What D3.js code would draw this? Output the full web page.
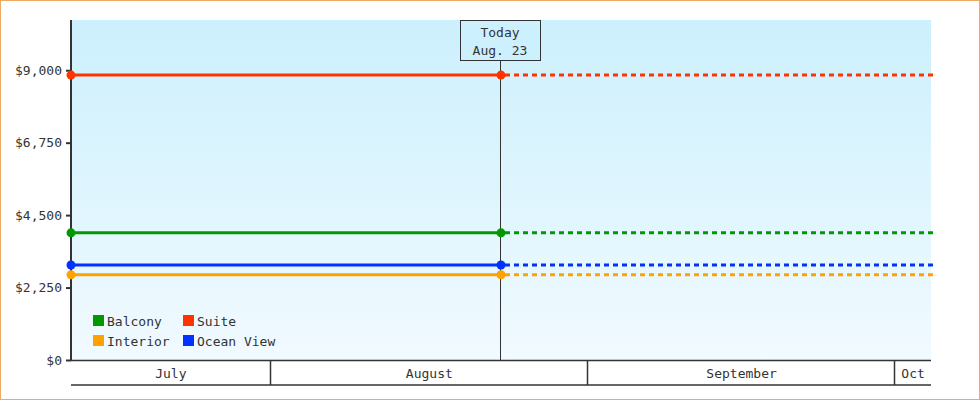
<!DOCTYPE html>
<html>
<head>
<meta charset="utf-8">
<script src="https://cdn.jsdelivr.net/npm/d3@7"></script>
<style>
  body { margin: 0; background: #fff; }
  svg text { font-family: "DejaVu Sans Mono", "Liberation Mono", monospace; font-size: 13px; fill: #333; }
</style>
</head>
<body>
<div id="chart"></div>
<script>
// data
var categories = ["Balcony", "Suite", "Interior", "Ocean View"]
var colors = ["#009900", "#ff3300", "#ffa200", "#0033ff"]
var prices = [3949, 8849, 2649, 2949]
var startDate = "2013-07-12T12:00"
var todayDate = "2013-08-23T12:00"
var endDate = "2013-10-04T12:00"
var yTicks = [0, 2250, 4500, 6750, 9000]
var yMax = 10560
var monthLabels = ["July", "August", "September", "Oct"]
var todayLabel = ["Today", "Aug. 23"]

var parseTime = d3.timeParse("%Y-%m-%dT%H:%M")

var W = 980, H = 400
var margin = { left: 71, right: 49, top: 20, bottom: 40 }
var width = W - margin.left - margin.right,
    height = H - margin.top - margin.bottom

var svg = d3.select("#chart")
    .append("svg")
        .attr("width", W)
        .attr("height", H)

// outer border
svg.append("rect")
    .attr("x", 0.5).attr("y", 0.5)
    .attr("width", W - 1).attr("height", H - 1)
    .attr("fill", "#fff")
    .attr("stroke", "#efaa62")
    .attr("stroke-width", 1)

var defs = svg.append("defs")
var grad = defs.append("linearGradient")
    .attr("id", "bg")
    .attr("x1", 0).attr("y1", 0).attr("x2", 0).attr("y2", 1)
grad.append("stop").attr("offset", "0%").attr("stop-color", "#ccf0fd")
grad.append("stop").attr("offset", "100%").attr("stop-color", "#f1faff")

var g = svg.append("g")
    .attr("transform", "translate(" + margin.left + "," + margin.top + ")")

var x = d3.scaleTime()
    .domain([parseTime(startDate), parseTime(endDate)])
    .range([0, width])

var y = d3.scaleLinear()
    .domain([0, yMax])
    .range([height, 0])

g.append("rect")
    .attr("x", 0).attr("y", 0)
    .attr("width", width).attr("height", height)
    .attr("fill", "url(#bg)")

// y axis
var yAxis = d3.axisLeft(y)
    .tickValues(yTicks)
    .tickSize(5)
    .tickPadding(4)
    .tickFormat(function(d){ return "$" + d3.format(",")(d) })

var yAxisCall = g.append("g").call(yAxis)
yAxisCall.select(".domain").remove()
yAxisCall.selectAll(".tick line").attr("stroke", "#333").attr("stroke-width", 2)
yAxisCall.selectAll(".tick text").attr("fill", "#333").style("font-size", "13px")
    .style("font-family", "'DejaVu Sans Mono', monospace")

g.append("line")
    .attr("x1", 0).attr("x2", 0)
    .attr("y1", 0).attr("y2", height + 1)
    .attr("stroke", "#333")
    .attr("stroke-width", 2)

// x axis: month bands
var bandH = 25
var bounds = [x.domain()[0]].concat(x.ticks(d3.timeMonth)).concat([x.domain()[1]])
var xAxisG = g.append("g").attr("transform", "translate(0," + height + ")")

xAxisG.append("line")
    .attr("x1", 0).attr("x2", width)
    .attr("y1", 0.5).attr("y2", 0.5)
    .attr("stroke", "#333").attr("stroke-width", 1.5)
xAxisG.append("line")
    .attr("x1", 0).attr("x2", width)
    .attr("y1", bandH).attr("y2", bandH)
    .attr("stroke", "#333").attr("stroke-width", 1.5)

xAxisG.selectAll(".sep")
    .data(bounds.slice(1, -1))
    .enter().append("line")
        .attr("class", "sep")
        .attr("x1", d => Math.round(x(d)) - 0.5)
        .attr("x2", d => Math.round(x(d)) - 0.5)
        .attr("y1", 0).attr("y2", bandH)
        .attr("stroke", "#333").attr("stroke-width", 1.5)

xAxisG.selectAll(".month")
    .data(monthLabels)
    .enter().append("text")
        .attr("class", "month")
        .attr("x", (d, i) => (x(bounds[i]) + x(bounds[i + 1])) / 2)
        .attr("y", bandH / 2 + 1)
        .attr("text-anchor", "middle")
        .attr("dominant-baseline", "central")
        .text(d => d)

// today marker
var todayX = x(parseTime(todayDate))
g.append("line")
    .attr("x1", Math.round(todayX) - 0.5).attr("x2", Math.round(todayX) - 0.5)
    .attr("y1", 40).attr("y2", height)
    .attr("stroke", "#333").attr("stroke-width", 1)

g.append("rect")
    .attr("x", Math.round(todayX) - 41 + 0.5).attr("y", 0.5)
    .attr("width", 80).attr("height", 40)
    .attr("fill", "#ccf0fd")
    .attr("stroke", "#333").attr("stroke-width", 1)

g.selectAll(".today-text")
    .data(todayLabel)
    .enter().append("text")
        .attr("class", "today-text")
        .attr("x", todayX - 1)
        .attr("y", (d, i) => 12 + i * 18)
        .attr("text-anchor", "middle")
        .attr("dominant-baseline", "central")
        .text(d => d)

// series
var series = categories.map(function(c, i){
    return {
        name: c,
        color: colors[i],
        actual: [
            { date: parseTime(startDate), val: prices[i] },
            { date: parseTime(todayDate), val: prices[i] }
        ],
        projected: [
            { date: parseTime(todayDate), val: prices[i] },
            { date: parseTime(endDate), val: prices[i] }
        ]
    }
})

var line = d3.line()
    .x(d => x(d.date))
    .y(d => y(d.val))

var seriesG = g.selectAll(".series")
    .data(series)
    .enter().append("g")
        .attr("class", "series")

seriesG.append("path")
    .attr("d", d => line(d.projected))
    .attr("fill", "none")
    .attr("stroke", d => d.color)
    .attr("stroke-width", 3)
    .attr("stroke-dasharray", "5,4")
    .attr("transform", "translate(4,0)")

seriesG.append("path")
    .attr("d", d => line(d.actual))
    .attr("fill", "none")
    .attr("stroke", d => d.color)
    .attr("stroke-width", 3)

seriesG.selectAll("circle")
    .data(d => d.actual.map(p => ({ date: p.date, val: p.val, color: d.color })))
    .enter().append("circle")
        .attr("cx", d => x(d.date))
        .attr("cy", d => y(d.val))
        .attr("r", 4.5)
        .attr("fill", d => d.color)

// legend
var legend = g.append("g")
    .attr("transform", "translate(22," + (height - 45) + ")")

var legendItems = legend.selectAll(".legend-item")
    .data(series)
    .enter().append("g")
        .attr("class", "legend-item")
        .attr("transform", (d, i) => "translate(" + ((i % 2) * 90) + "," + (Math.floor(i / 2) * 20) + ")")

legendItems.append("rect")
    .attr("x", 0).attr("y", 0)
    .attr("width", 11).attr("height", 11)
    .attr("fill", d => d.color)

legendItems.append("text")
    .attr("x", 14)
    .attr("y", 6)
    .attr("dominant-baseline", "central")
    .text(d => d.name)
</script>
</body>
</html>
